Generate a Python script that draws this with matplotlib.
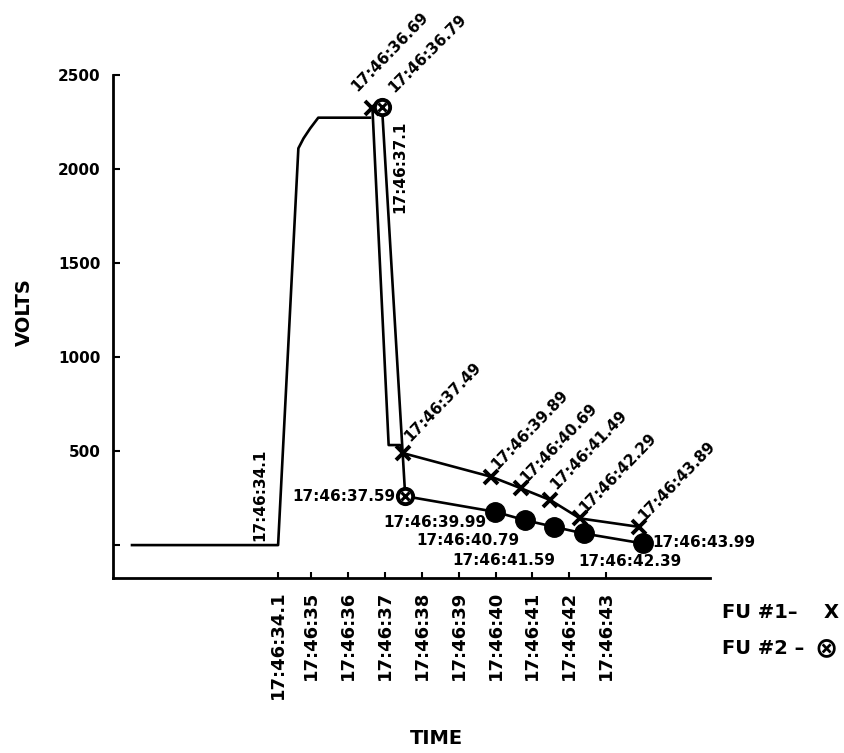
import matplotlib.pyplot as plt

trace_t = [30.1, 34.1, 34.65, 34.79, 34.97, 35.19, 36.63]
trace_v = [0, 0, 2110, 2163, 2216, 2273, 2273]

# FU #1 (X markers), incl. the step at 17:46:37.1
fu1_t = [36.66, 37.1, 37.41, 37.49, 39.89, 40.69, 41.49, 42.29, 43.89]
fu1_v = [2323, 532, 532, 489, 363, 302, 239, 142, 97]
fu1_marks = [0, 3, 4, 5, 6, 7, 8]
fu1_labels = ['17:46:36.69', '17:46:37.49', '17:46:39.89', '17:46:40.69',
              '17:46:41.49', '17:46:42.29', '17:46:43.89']

# FU #2 (circle-X markers)
fu2_t = [36.92, 37.55, 39.99, 40.79, 41.59, 42.39, 43.99]
fu2_v = [2328, 260, 177, 133, 97, 62, 9]
fu2_labels = ['17:46:36.79', '17:46:37.59', '17:46:39.99', '17:46:40.79',
              '17:46:41.59', '17:46:42.39', '17:46:43.99']

tick_t = [34.1, 35, 36, 37, 38, 39, 40, 41, 42, 43]
tick_labels = ['17:46:34.1', '17:46:35', '17:46:36', '17:46:37', '17:46:38',
               '17:46:39', '17:46:40', '17:46:41', '17:46:42', '17:46:43']
ytick_v = [0, 500, 1000, 1500, 2000, 2500]
ytick_labels = ['', '500', '1000', '1500', '2000', '2500']

W, H = 844, 753
fig = plt.figure(figsize=(W / 100, H / 100), dpi=100)
ax = fig.add_axes([113 / W, (H - 578) / H, 597 / W, 503 / H])

LW = 1.9
ax.plot(trace_t, trace_v, color='black', lw=LW, solid_capstyle='butt')
ax.plot(fu1_t, fu1_v, color='black', lw=LW, marker='x', markersize=10,
        markeredgewidth=2.8, markevery=fu1_marks)
ax.plot(fu2_t, fu2_v, color='black', lw=LW)

# first two FU #2 points drawn open, the rest as filled dots
ax.plot(fu2_t[:2], fu2_v[:2], ls='none', marker='o', markersize=11,
        markerfacecolor='white', markeredgecolor='black', markeredgewidth=2.8)
ax.plot(fu2_t[:2], fu2_v[:2], ls='none', marker='x', markersize=6,
        markeredgecolor='black', markeredgewidth=2.2)
ax.plot(fu2_t[2:], fu2_v[2:], ls='none', marker='o', markersize=14,
        color='black')

txt = dict(fontsize=11, fontweight='bold', color='black')

# slanted labels of FU #1
fu1_off = [(-11, 12), (5, 8), (4, 5), (4, 4), (4, 7), (4, 4), (4, 4)]
for i, lab, off in zip(fu1_marks, fu1_labels, fu1_off):
    ax.annotate(lab, (fu1_t[i], fu1_v[i]), xytext=off, textcoords='offset points',
                rotation=46, rotation_mode='anchor', ha='left', va='baseline', **txt)

# FU #2 labels
ax.annotate(fu2_labels[0], (fu2_t[0], fu2_v[0]), xytext=(9, 10),
            textcoords='offset points', rotation=45, rotation_mode='anchor',
            ha='left', va='baseline', **txt)
fu2_off = [(-7, 0, 'right'), (-6, -8, 'right'), (-4, -15, 'right'),
           (1, -24, 'right'), (-4, -20, 'left'), (7, 1, 'left')]
for lab, t, v, (dx, dy, ha) in zip(fu2_labels[1:], fu2_t[1:], fu2_v[1:], fu2_off):
    ax.annotate(lab, (t, v), xytext=(dx, dy), textcoords='offset points',
                ha=ha, va='center', **txt)

ax.text(37.41, 2010, '17:46:37.1', rotation=90, ha='center', va='center', **txt)
ax.text(33.6, 270, '17:46:34.1', rotation=90, ha='center', va='center', **txt)

ax.set_xlim(29.62, 45.82)
ax.set_ylim(-175, 2500)
ax.set_xticks(tick_t)
ax.set_xticklabels(tick_labels, rotation=90, fontsize=13, fontweight='bold')
ax.set_yticks(ytick_v)
ax.set_yticklabels(ytick_labels, fontsize=11, fontweight='bold')
ax.tick_params(axis='x', direction='in', length=4, width=1.5, pad=9)
ax.tick_params(axis='y', direction='in', length=5, width=1.5, pad=9)

for s in ['top', 'right']:
    ax.spines[s].set_visible(False)
for s in ['left', 'bottom']:
    ax.spines[s].set_linewidth(2)

fig.text(24 / W, 1 - 312 / H, 'VOLTS', rotation=90, ha='center', va='center',
         fontsize=14, fontweight='bold')
fig.text(436 / W, 1 - 739 / H, 'TIME', ha='center', va='center',
         fontsize=14, fontweight='bold')

# legend drawn as plain text
fig.text(722 / W, 1 - 613 / H, 'FU #1\u2013', ha='left', va='center',
         fontsize=14, fontweight='bold')
fig.text(831 / W, 1 - 613 / H, 'X', ha='center', va='center',
         fontsize=14, fontweight='bold')
fig.text(722 / W, 1 - 648 / H, 'FU #2 \u2013', ha='left', va='center',
         fontsize=14, fontweight='bold')
fig.text(826 / W, 1 - 648 / H, '\u2297', ha='center', va='center',
         fontsize=20, fontweight='bold')

fig.savefig('out.png', dpi=100)
